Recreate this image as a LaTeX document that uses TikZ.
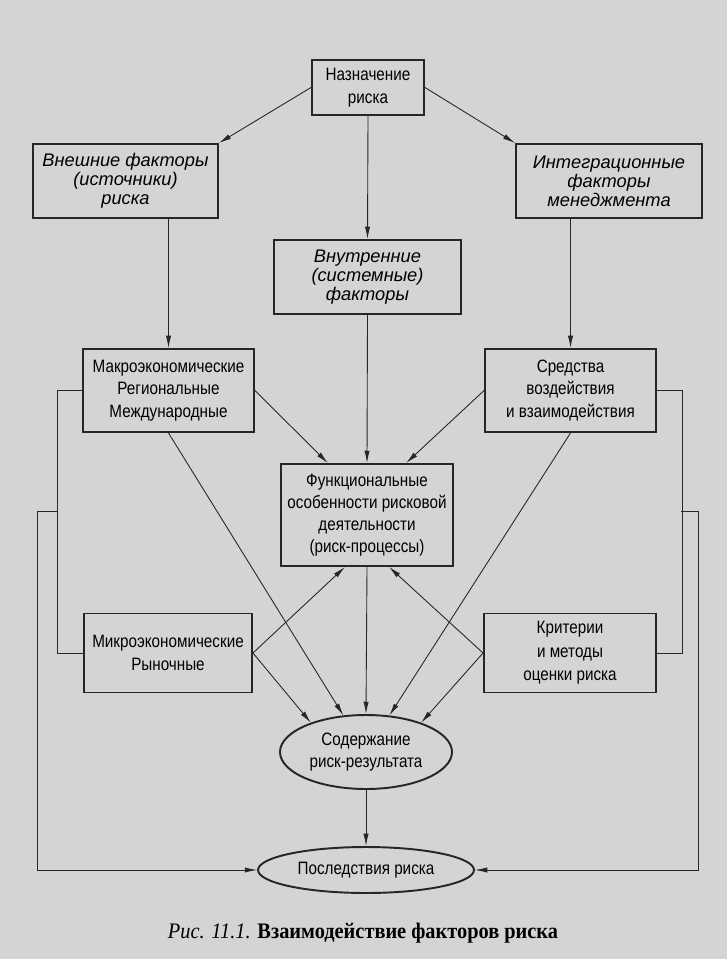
\documentclass[tikz,border=0pt]{standalone}
\usepackage{fontspec}
\setmainfont{Liberation Sans}[FakeStretch=0.85]
\newfontfamily\widefont{Liberation Sans}
\newfontfamily\capfont{Liberation Serif}[FakeStretch=0.92]
\usetikzlibrary{arrows.meta, shapes.geometric}

\begin{document}
\begin{tikzpicture}[
  x=0.02cm, y=-0.02cm,
  box/.style={rectangle, draw=black!85, line width=1.1pt, align=center,
              inner sep=0pt, font=\fontsize{10.2}{12.9}\selectfont},
  itbox/.style={box, font=\widefont\itshape\fontsize{10.4}{10.9}\selectfont},
  oval/.style={ellipse, draw=black!85, line width=1.1pt, align=center,
               inner sep=0pt, font=\fontsize{10.2}{12.9}\selectfont},
  arrow/.style={-{Latex[length=7pt,width=3pt]}, line width=0.5pt, black!85},
  link/.style={line width=0.5pt, black!85}
]
% page
\fill[black!17] (0,0) rectangle (727,959);

% factors
\node[box, minimum width=2.24cm, minimum height=1.1cm] (nz) at (368,87.5) {Назначение\\риска};
\node[itbox, minimum width=3.7cm, minimum height=1.48cm] (vn) at (125.5,181) {Внешние факторы\\(источники)\\риска};
\node[itbox, minimum width=3.72cm, minimum height=1.48cm] (ig) at (609,181) {Интеграционные\\факторы\\менеджмента};
\node[itbox, minimum width=3.74cm, minimum height=1.48cm] (vt) at (367.5,277) {Внутренние\\(системные)\\факторы};
\node[box, minimum width=3.42cm, minimum height=1.66cm] (ma) at (168.5,390.5) {Макроэкономические\\Региональные\\Международные};
\node[box, minimum width=3.42cm, minimum height=1.66cm] (sr) at (570.5,390.5) {Средства\\воздействия\\и взаимодействия};
\node[box, minimum width=3.44cm, minimum height=2.04cm, font=\fontsize{10.2}{12.4}\selectfont] (fn) at (367,515) {Функциональные\\особенности рисковой\\деятельности\\(риск-процессы)};
\node[box, minimum width=3.36cm, minimum height=1.58cm] (mi) at (168,653) {Микроэкономические\\Рыночные};
\node[box, minimum width=3.44cm, minimum height=1.58cm, font=\fontsize{10.2}{13.4}\selectfont] (kr) at (570,653) {Критерии\\и методы\\оценки риска};
\node[oval, minimum width=3.44cm, minimum height=1.48cm] (sd) at (366,752) {Содержание\\риск-результата};
\node[oval, minimum width=4.32cm, minimum height=0.92cm] (ps) at (366,870) {Последствия риска};

% arrows
\draw[arrow] (nz.west) -- (vn.north east);
\draw[arrow] (nz.east) -- (ig.north west);
\draw[arrow] (nz.south) -- (vt.north);
\draw[arrow] (vn.south -| ma.north) -- (ma.north);
\draw[arrow] (ig.south -| sr.north) -- (sr.north);
\draw[arrow] (vt.south) -- (fn.north);
\draw[arrow] (ma.east) -- (fn.127);
\draw[arrow] (sr.west) -- (fn.53);
\draw[arrow] (ma.south) -- (sd);
\draw[arrow] (sr.south) -- (sd);
\draw[arrow] (mi.east) -- (fn.247);
\draw[arrow] (kr.west) -- (fn.293);
\draw[arrow] (mi.east) -- (sd.152);
\draw[arrow] (kr.west) -- (sd.28);
\draw[arrow] (fn.south) -- (sd.north);
\draw[arrow] (sd.south) -- (ps.north);

% feedback
\coordinate (lb) at (58,511);
\coordinate (rb) at (681,511);
\draw[link] (ma.west) -- ++(-25,0) |- (mi.west);
\draw[link] (sr.east) -- ++(25,0) |- (kr.east);
\draw[arrow] (lb) -- ++(-21,0) |- (ps.west);
\draw[arrow] (rb) -- ++(17,0) |- (ps.east);

% caption
\node[font=\capfont\fontsize{12.6}{14}\selectfont] (cap) at (363,933) {\textit{Рис. 11.1.} \textbf{Взаимодействие факторов риска}};
\end{tikzpicture}
\end{document}
